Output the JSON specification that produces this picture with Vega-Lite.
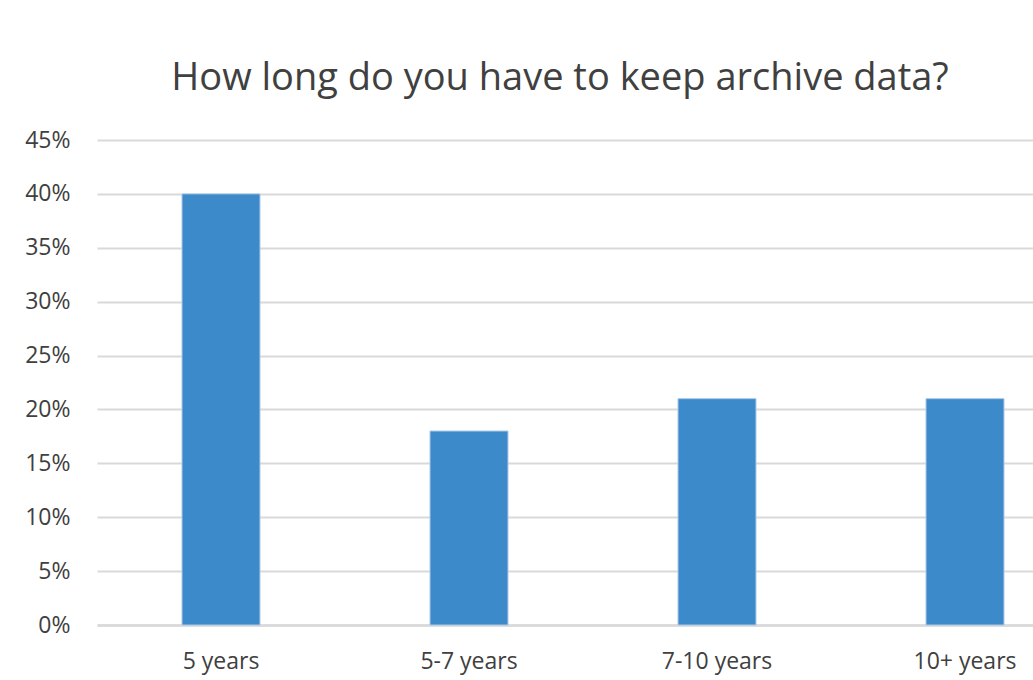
{
  "$schema": "https://vega.github.io/schema/vega-lite/v6.json",
  "autosize": {"type": "none"},
  "width": 936,
  "height": 485,
  "padding": {"left": 97, "top": 140, "right": 0, "bottom": 55},
  "background": "white",
  "config": {
    "view": {"stroke": null},
    "font": "Open Sans"
  },
  "title": {
    "text": "How long do you have to keep archive data?",
    "fontSize": 38,
    "fontWeight": "normal",
    "color": "#404040",
    "font": "Open Sans",
    "anchor": "middle",
    "frame": "group",
    "baseline": "alphabetic",
    "offset": 1,
    "dx": -5
  },
  "data": {
    "values": [
      {"period": "5 years", "share": 0.40},
      {"period": "5-7 years", "share": 0.18},
      {"period": "7-10 years", "share": 0.21},
      {"period": "10+ years", "share": 0.21}
    ]
  },
  "mark": {"type": "bar", "color": "#3C8AC9", "stroke": "#A9C9E8", "strokeWidth": 1},
  "encoding": {
    "x": {
      "field": "period",
      "type": "nominal",
      "sort": null,
      "scale": {"range": [0, 992], "paddingInner": 0.6855, "paddingOuter": 0.34275},
      "axis": {
        "title": null,
        "labelAngle": 0,
        "labelFontSize": 23,
        "labelColor": "#404040",
        "labelPadding": 25,
        "ticks": false,
        "domainColor": "#D9D9D9",
        "domainWidth": 2.5,
        "grid": false
      }
    },
    "y": {
      "field": "share",
      "type": "quantitative",
      "scale": {"domain": [0, 0.45], "nice": false},
      "axis": {
        "title": null,
        "format": ".0%",
        "values": [0, 0.05, 0.1, 0.15, 0.2, 0.25, 0.3, 0.35, 0.4, 0.45],
        "labelFontSize": 23,
        "labelColor": "#404040",
        "labelPadding": 27,
        "ticks": false,
        "domain": false,
        "grid": true,
        "gridColor": "#D9D9D9",
        "gridWidth": 2
      }
    }
  }
}
